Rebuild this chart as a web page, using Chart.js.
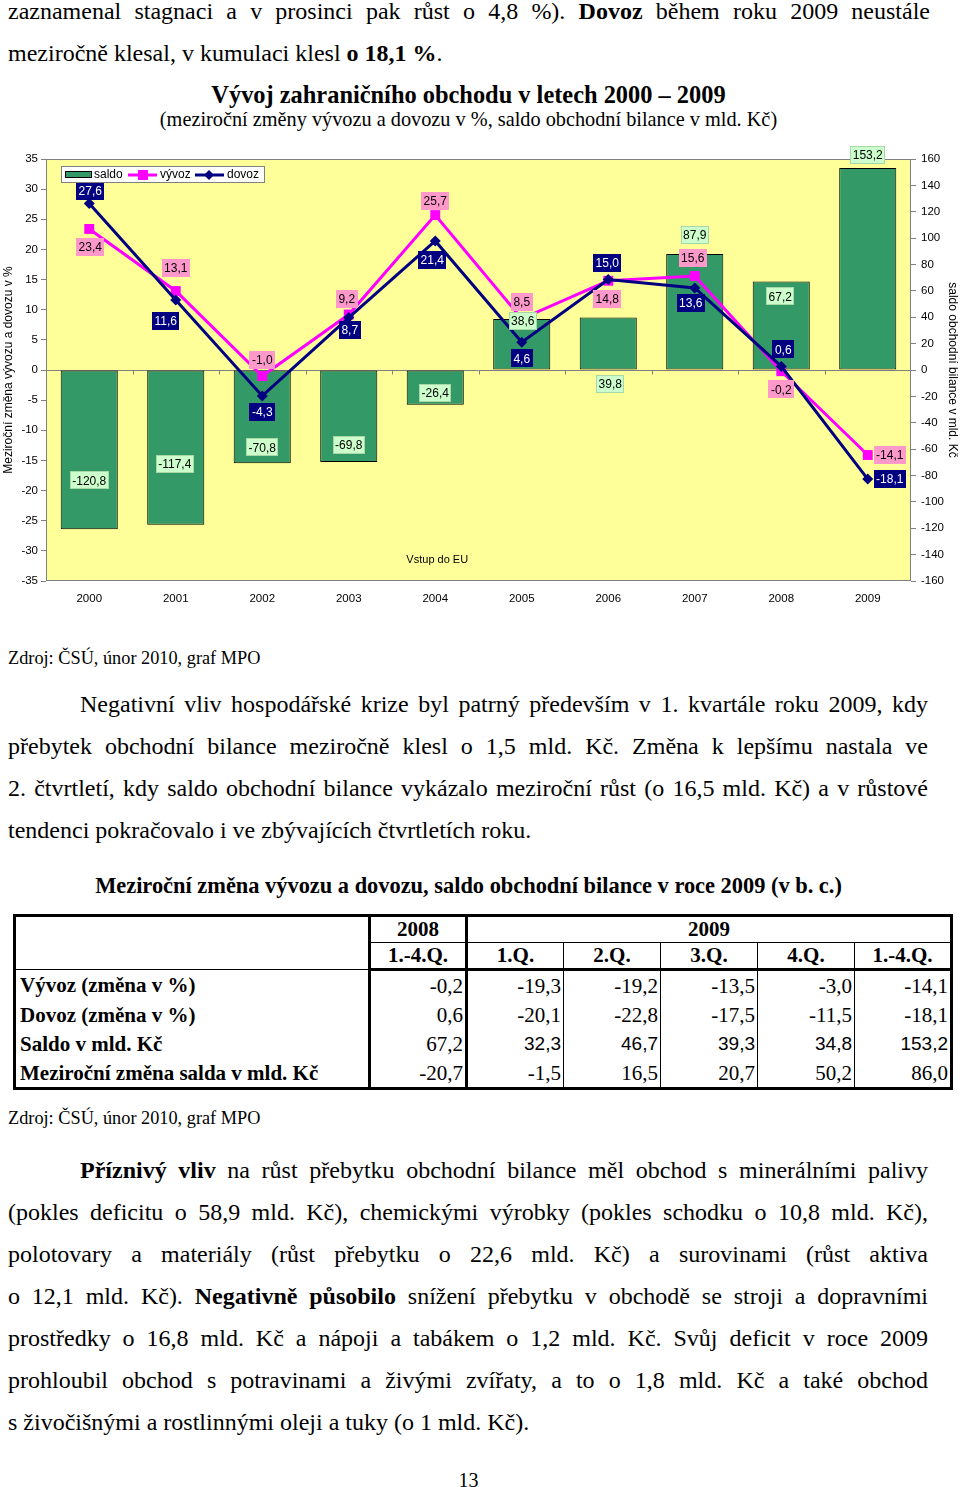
<!DOCTYPE html>
<html lang="cs">
<head>
<meta charset="utf-8">
<title>Vývoj zahraničního obchodu v letech 2000 – 2009</title>
<script src="https://cdn.jsdelivr.net/npm/chart.js@4.4.1/dist/chart.umd.min.js"></script>
<style>
  html, body { margin: 0; padding: 0; background: #fff; }
  #page { position: relative; width: 960px; height: 1487px; overflow: hidden;
          font-family: 'Liberation Serif', 'Times New Roman', serif; color: #000; }
  .ln { position: absolute; height: 42px; line-height: 42px; font-size: 24px; }
  .just { text-align: justify; text-align-last: justify; }
  .free { white-space: nowrap; }
  .center { position: absolute; left: 0; width: 937px; text-align: center; white-space: nowrap; }
  .src { position: absolute; left: 8px; font-size: 18.3px; line-height: 24px; white-space: nowrap; }
  #chartBox { position: absolute; left: 0; top: 140px; width: 960px; height: 472px; }
  #tab { position: absolute; left: 13px; top: 914px; width: 938px; border-collapse: collapse;
         table-layout: fixed; border: 3px solid #000; font-size: 21px; }
  #tab th { font-weight: bold; border: 1px solid #000; padding: 0; text-align: center; }
  #tab tr.h1 { height: 27px; }
  #tab tr.h2 { height: 26px; }
  #tab tr.h2 th { border-bottom: 3px solid #000; }
  #tab td { border-left: 1px solid #000; border-right: 1px solid #000; padding: 0 2px 0 0;
            text-align: right; height: 29px; line-height: 24px; }
  #tab td.lab { text-align: left; font-weight: bold; padding-left: 4px; }
  #tab .thick { border-right: 3px solid #000; }
  #tab td.sans { font-family: 'Liberation Sans', Arial, sans-serif; font-size: 19px; }
</style>
</head>
<body>
<div id="page">
  <div class="ln just" style="left:8px; width:922px; top:-10px;">zaznamenal stagnaci a v prosinci pak růst o 4,8 %). <b>Dovoz</b> během roku 2009 neustále</div>
  <div class="ln free" style="left:8px; top:32px;">meziročně klesal, v kumulaci klesl <b>o 18,1 %</b>.</div>

  <div class="center" style="top:81px; font-size:24.4px; font-weight:bold; line-height:28px;">Vývoj zahraničního obchodu v letech 2000 – 2009</div>
  <div class="center" style="top:107px; font-size:20.3px; line-height:24px;">(meziroční změny vývozu a dovozu v %, saldo obchodní bilance v mld. Kč)</div>

  <div id="chartBox"><canvas id="tradeChart" width="960" height="472"></canvas></div>

  <div class="src" style="top:646px;">Zdroj: ČSÚ, únor 2010, graf MPO</div>

  <div class="ln just" style="left:80px; width:848px; top:683px;">Negativní vliv hospodářské krize byl patrný především v 1. kvartále roku 2009, kdy</div>
  <div class="ln just" style="left:8px; width:920px; top:725px;">přebytek obchodní bilance meziročně klesl o 1,5 mld. Kč. Změna k lepšímu nastala ve</div>
  <div class="ln just" style="left:8px; width:920px; top:767px;">2. čtvrtletí, kdy saldo obchodní bilance vykázalo meziroční růst (o 16,5 mld. Kč) a v růstové</div>
  <div class="ln free" style="left:8px; top:809px;">tendenci pokračovalo i ve zbývajících čtvrtletích roku.</div>

  <div class="center" style="top:872px; font-size:22.4px; font-weight:bold; line-height:28px;">Meziroční změna vývozu a dovozu, saldo obchodní bilance v roce 2009 (v b. c.)</div>

  <table id="tab"></table>

  <div class="src" style="top:1106px;">Zdroj: ČSÚ, únor 2010, graf MPO</div>

  <div class="ln just" style="left:80px; width:848px; top:1149px;"><b>Příznivý vliv</b> na růst přebytku obchodní bilance měl obchod s minerálními palivy</div>
  <div class="ln just" style="left:8px; width:920px; top:1191px;">(pokles deficitu o 58,9 mld. Kč), chemickými výrobky (pokles schodku o 10,8 mld. Kč),</div>
  <div class="ln just" style="left:8px; width:920px; top:1233px;">polotovary a materiály (růst přebytku o 22,6 mld. Kč) a surovinami (růst aktiva</div>
  <div class="ln just" style="left:8px; width:920px; top:1275px;">o 12,1 mld. Kč). <b>Negativně působilo</b> snížení přebytku v obchodě se stroji a dopravními</div>
  <div class="ln just" style="left:8px; width:920px; top:1317px;">prostředky o 16,8 mld. Kč a nápoji a tabákem o 1,2 mld. Kč. Svůj deficit v roce 2009</div>
  <div class="ln just" style="left:8px; width:920px; top:1359px;">prohloubil obchod s potravinami a živými zvířaty, a to o 1,8 mld. Kč a také obchod</div>
  <div class="ln free" style="left:8px; top:1401px;">s živočišnými a rostlinnými oleji a tuky (o 1 mld. Kč).</div>

  <div class="center" style="top:1466px; font-size:20px; line-height:28px;">13</div>
</div>

<script>
const years = ['2000', '2001', '2002', '2003', '2004', '2005', '2006', '2007', '2008', '2009'];
const saldo = [-120.8, -117.4, -70.8, -69.8, -26.4, 38.6, 39.8, 87.9, 67.2, 153.2];
const vyvoz = [23.4, 13.1, -1.0, 9.2, 25.7, 8.5, 14.8, 15.6, -0.2, -14.1];
const dovoz = [27.6, 11.6, -4.3, 8.7, 21.4, 4.6, 15.0, 13.6, 0.6, -18.1];

// table below the chart
const quarterCols = ['1.-4.Q.', '1.Q.', '2.Q.', '3.Q.', '4.Q.', '1.-4.Q.'];
const rowNames = ['Vývoz (změna v %)', 'Dovoz (změna v %)', 'Saldo v mld. Kč', 'Meziroční změna salda v mld. Kč'];
const vyvozQ = [-0.2, -19.3, -19.2, -13.5, -3.0, -14.1];
const dovozQ = [0.6, -20.1, -22.8, -17.5, -11.5, -18.1];
const saldoQ = [67.2, 32.3, 46.7, 39.3, 34.8, 153.2];
const zmenaSaldaQ = [-20.7, -1.5, 16.5, 20.7, 50.2, 86.0];

const SANS = "'Liberation Sans', Arial, sans-serif";
const fmt = (v) => v.toFixed(1).replace('.', ',');

function buildTable() {
  const rows = [vyvozQ, dovozQ, saldoQ, zmenaSaldaQ];
  let html = '<colgroup><col style="width:355px">' + quarterCols.map(() => '<col style="width:97px">').join('') + '</colgroup>';
  html += '<tr class="h1"><th rowspan="2" class="thick"></th><th class="thick">2008</th><th colspan="5">2009</th></tr>';
  html += '<tr class="h2">' + quarterCols.map((q, i) => `<th class="${i === 0 ? 'thick' : ''}">${q}</th>`).join('') + '</tr>';
  rows.forEach((r, ri) => {
    html += '<tr><td class="lab thick">' + rowNames[ri] + '</td>';
    r.forEach((v, i) => {
      const cls = [];
      if (i === 0) cls.push('thick');
      if (ri === 2 && i > 0) cls.push('sans');
      html += `<td class="${cls.join(' ')}">${fmt(v)}</td>`;
    });
    html += '</tr>';
  });
  document.getElementById('tab').innerHTML = html;
}
buildTable();

// label placement next to points / bar ends, in px (Excel had them hand placed)
const saldoShift = [[0, -49], [-1, -61], [0, -16], [0, -17], [0, -12], [1, 2], [2, 66], [0, -19], [-1, 15], [0, -13]];
const vyvozShift = [[1, 18], [0, -23], [0, -16], [-2, -16], [0, -14], [0, -17], [-1, 18], [-2, -18], [0, 18], [22, 0]];
const dovozShift = [[1, -13], [-10, 21], [0, 16], [1, 12], [-3, 19], [0, 16], [-1, -17], [-4, 15], [2, -17], [22, 0]];

const labelStyles = [
  { bg: '#ccffcc', fg: '#000', line: '#a8d8a8', shift: saldoShift },
  { bg: '#ff99cc', fg: '#000', line: null, shift: vyvozShift },
  { bg: '#000080', fg: '#fff', line: null, shift: dovozShift },
];

const plotFrame = {
  id: 'plotFrame',
  beforeDraw(chart) {
    const { ctx, chartArea: a } = chart;
    ctx.save();
    ctx.fillStyle = '#ffff99';
    ctx.fillRect(a.left, a.top, a.right - a.left, a.bottom - a.top);
    ctx.restore();
  },
  beforeDatasetsDraw(chart) {
    const { ctx, chartArea: a, scales } = chart;
    const y0 = Math.round(scales.y.getPixelForValue(0)) + 0.5;
    ctx.save();
    ctx.strokeStyle = '#808080';
    ctx.lineWidth = 1;
    ctx.strokeRect(a.left + 0.5, a.top + 0.5, a.right - a.left - 1, a.bottom - a.top - 1);
    ctx.beginPath();
    ctx.moveTo(a.left, y0);
    ctx.lineTo(a.right, y0);
    const step = (a.right - a.left) / years.length;
    for (let i = 1; i < years.length; i++) {
      const x = Math.round(a.left + i * step) + 0.5;
      ctx.moveTo(x, y0);
      ctx.lineTo(x, y0 + 4);
    }
    ctx.stroke();
    ctx.restore();
  },
};

const valueLabels = {
  id: 'valueLabels',
  afterDatasetsDraw(chart) {
    const ctx = chart.ctx;
    ctx.save();
    ctx.font = `12px ${SANS}`;
    ctx.textAlign = 'center';
    ctx.textBaseline = 'middle';
    chart.data.datasets.forEach((ds, di) => {
      const st = labelStyles[di];
      chart.getDatasetMeta(di).data.forEach((el, i) => {
        const [dx, dy] = st.shift[i];
        const x = el.x + dx;
        const y = el.y + dy;
        const txt = fmt(ds.data[i]);
        const w = Math.round(ctx.measureText(txt).width) + 5;
        const h = 18;
        ctx.fillStyle = st.bg;
        ctx.fillRect(Math.round(x - w / 2), Math.round(y - h / 2), w, h);
        if (st.line) {
          ctx.strokeStyle = st.line;
          ctx.strokeRect(Math.round(x - w / 2) + 0.5, Math.round(y - h / 2) + 0.5, w - 1, h - 1);
        }
        ctx.fillStyle = st.fg;
        ctx.fillText(txt, x, y + 1);
      });
    });

    // note under the 2004 column
    const xs = chart.scales.x;
    ctx.fillStyle = '#000';
    ctx.font = `11px ${SANS}`;
    ctx.fillText('Vstup do EU', xs.getPixelForValue(4) + 2, chart.scales.y.getPixelForValue(-31.5));
    ctx.restore();
  },
};

const boxLegend = {
  id: 'boxLegend',
  afterDraw(chart) {
    const ctx = chart.ctx;
    ctx.save();
    ctx.fillStyle = '#fff';
    ctx.fillRect(61, 26, 204, 17);
    ctx.strokeStyle = '#808080';
    ctx.strokeRect(61.5, 26.5, 203, 16);
    const cy = 35;
    // saldo
    ctx.fillStyle = '#339966';
    ctx.fillRect(65, 31, 27, 7);
    ctx.strokeStyle = '#000';
    ctx.strokeRect(65.5, 31.5, 26, 6);
    // vývoz
    ctx.strokeStyle = '#ff00ff';
    ctx.lineWidth = 3;
    ctx.beginPath();
    ctx.moveTo(128, cy);
    ctx.lineTo(157, cy);
    ctx.stroke();
    ctx.fillStyle = '#ff00ff';
    ctx.fillRect(138, cy - 5, 10, 10);
    // dovoz
    ctx.strokeStyle = '#000080';
    ctx.beginPath();
    ctx.moveTo(195, cy);
    ctx.lineTo(224, cy);
    ctx.stroke();
    ctx.fillStyle = '#000080';
    ctx.beginPath();
    ctx.moveTo(209, cy - 5);
    ctx.lineTo(214, cy);
    ctx.lineTo(209, cy + 5);
    ctx.lineTo(204, cy);
    ctx.closePath();
    ctx.fill();
    ctx.fillStyle = '#000';
    ctx.font = `12px ${SANS}`;
    ctx.textBaseline = 'middle';
    ctx.textAlign = 'left';
    ctx.fillText('saldo', 94, cy);
    ctx.fillText('vývoz', 160, cy);
    ctx.fillText('dovoz', 227, cy);
    ctx.restore();
  },
};

const tickFont = { family: SANS, size: 11.5 };
const titleFont = { family: SANS, size: 12 };

new Chart(document.getElementById('tradeChart'), {
  type: 'bar',
  data: {
    labels: years,
    datasets: [
      {
        label: 'saldo',
        data: saldo,
        yAxisID: 'y1',
        backgroundColor: '#339966',
        borderColor: '#000',
        borderWidth: 1,
        borderSkipped: false,
        categoryPercentage: 1,
        barPercentage: 0.66,
        order: 3,
      },
      {
        label: 'vývoz',
        type: 'line',
        data: vyvoz,
        yAxisID: 'y',
        borderColor: '#ff00ff',
        backgroundColor: '#ff00ff',
        borderWidth: 3,
        pointStyle: 'rect',
        pointRadius: 7,
        pointBorderWidth: 0,
        fill: false,
        tension: 0,
        order: 2,
      },
      {
        label: 'dovoz',
        type: 'line',
        data: dovoz,
        yAxisID: 'y',
        borderColor: '#000080',
        backgroundColor: '#000080',
        borderWidth: 3,
        pointStyle: 'rectRot',
        pointRadius: 5.5,
        pointBorderWidth: 0,
        fill: false,
        tension: 0,
        order: 1,
      },
    ],
  },
  options: {
    responsive: false,
    animation: false,
    devicePixelRatio: 1,
    layout: { padding: { top: 19, left: 0, right: 0, bottom: 0 } },
    plugins: {
      legend: { display: false },
      tooltip: { enabled: false },
    },
    scales: {
      x: {
        offset: true,
        grid: { display: false, drawTicks: false },
        border: { display: false },
        ticks: { font: tickFont, color: '#000', padding: 11, maxRotation: 0 },
        afterFit: (s) => { s.height = 31; },
      },
      y: {
        position: 'left',
        min: -35,
        max: 35,
        ticks: { stepSize: 5, font: tickFont, color: '#000', padding: 3 },
        grid: { drawOnChartArea: false, tickLength: 5, tickColor: '#808080' },
        border: { display: false },
        title: {
          display: true,
          text: 'Meziroční změna vývozu a dovozu v %',
          font: titleFont,
          color: '#000',
          padding: { top: 1, bottom: 0 },
        },
        afterFit: (s) => { s.width = 46; },
      },
      y1: {
        position: 'right',
        min: -160,
        max: 160,
        ticks: { stepSize: 20, font: tickFont, color: '#000', padding: 5 },
        grid: { drawOnChartArea: false, tickLength: 5, tickColor: '#808080' },
        border: { display: false },
        title: {
          display: true,
          text: 'saldo obchodní bilance v mld. Kč',
          font: titleFont,
          color: '#000',
          padding: { top: 0, bottom: 0 },
        },
        afterFit: (s) => { s.width = 49; },
      },
    },
  },
  plugins: [plotFrame, valueLabels, boxLegend],
});
</script>
</body>
</html>
